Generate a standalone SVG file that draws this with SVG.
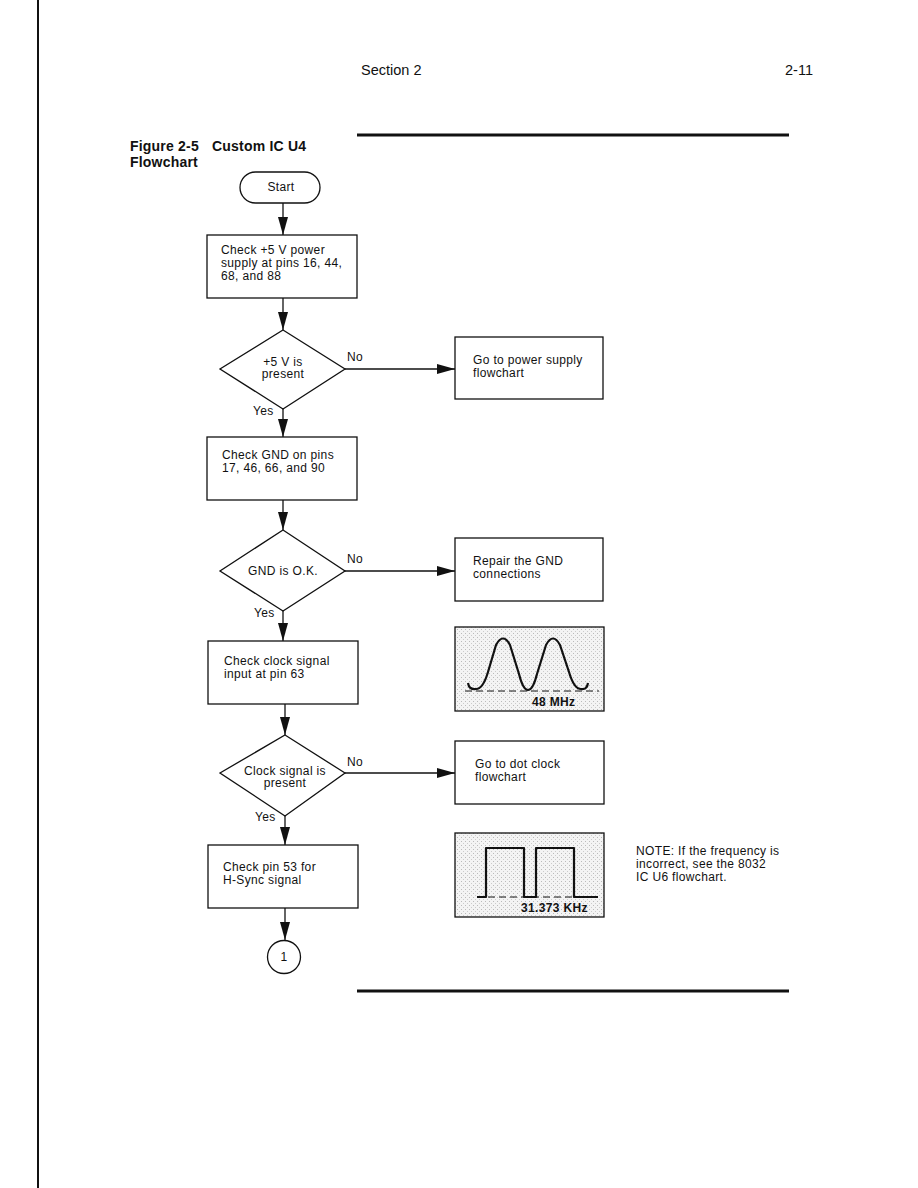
<svg xmlns="http://www.w3.org/2000/svg" width="918" height="1188" viewBox="0 0 918 1188">
<style>
text{font-family:"Liberation Sans",Arial,sans-serif;fill:#111}
.t{font-size:12px;letter-spacing:0.35px}
.h{font-size:14.5px}
.b{font-size:14px;font-weight:bold;letter-spacing:0.2px}
.n{fill:#fff;stroke:#111;stroke-width:1.3}
.c{fill:none;stroke:#111;stroke-width:1.3}
.w{fill:none;stroke:#111;stroke-width:2.2;stroke-linejoin:round}
.d{fill:none;stroke:#111;stroke-width:1.2;stroke-dasharray:7 4}
</style>
<defs>
<marker id="a" markerWidth="20" markerHeight="10" refX="18" refY="5" orient="auto" markerUnits="userSpaceOnUse" viewBox="0 0 20 10">
<path d="M0,0 L18,5 L0,10 Z" fill="#111"/>
</marker>
<pattern id="st" width="4" height="4" patternUnits="userSpaceOnUse">
<rect width="4" height="4" fill="#f4f4f4"/>
<rect x="1" y="1" width="1" height="1" fill="#bbb"/>
<rect x="3" y="3" width="1" height="1" fill="#ccc"/>
</pattern>
</defs>
<rect width="918" height="1188" fill="#fff"/>
<g id="page">
<line x1="38" y1="0" x2="38" y2="1188" stroke="#111" stroke-width="2"/>
<text class="h" x="361" y="75">Section 2</text>
<text class="h" x="785" y="75">2-11</text>
<line x1="357" y1="135" x2="789" y2="135" stroke="#111" stroke-width="3"/>
<line x1="357" y1="991" x2="789" y2="991" stroke="#111" stroke-width="3"/>
<text class="b" x="130" y="151">Figure 2-5</text>
<text class="b" x="212" y="151">Custom IC U4</text>
<text class="b" x="130" y="167">Flowchart</text>
</g>
<g id="connectors">
<line class="c" x1="283" y1="203" x2="283" y2="235" marker-end="url(#a)"/>
<line class="c" x1="283" y1="298" x2="283" y2="330" marker-end="url(#a)"/>
<line class="c" x1="345" y1="369" x2="455" y2="369" marker-end="url(#a)"/>
<line class="c" x1="283" y1="409" x2="283" y2="437" marker-end="url(#a)"/>
<line class="c" x1="283" y1="500" x2="283" y2="530" marker-end="url(#a)"/>
<line class="c" x1="345" y1="571" x2="455" y2="571" marker-end="url(#a)"/>
<line class="c" x1="283" y1="611" x2="283" y2="641" marker-end="url(#a)"/>
<line class="c" x1="285" y1="704" x2="285" y2="735" marker-end="url(#a)"/>
<line class="c" x1="345" y1="773" x2="455" y2="773" marker-end="url(#a)"/>
<line class="c" x1="285" y1="816" x2="285" y2="845" marker-end="url(#a)"/>
<line class="c" x1="285" y1="908" x2="285" y2="940" marker-end="url(#a)"/>
<text class="t" x="347" y="361">No</text>
<text class="t" x="253" y="415">Yes</text>
<text class="t" x="347" y="563">No</text>
<text class="t" x="254" y="617">Yes</text>
<text class="t" x="347" y="766">No</text>
<text class="t" x="255" y="821">Yes</text>
</g>
<g id="start">
<rect class="n" x="240" y="172" width="80" height="31" rx="15.5"/>
<text class="t" x="281" y="191" text-anchor="middle">Start</text>
</g>
<g id="box1">
<rect class="n" x="207" y="235" width="150" height="63"/>
<text class="t" x="221" y="254">Check +5 V power</text>
<text class="t" x="221" y="267">supply at pins 16, 44,</text>
<text class="t" x="221" y="280">68, and 88</text>
</g>
<g id="dec1">
<polygon class="n" points="283,330 345,369 283,409 220,369"/>
<text class="t" x="283" y="366" text-anchor="middle">+5 V is</text>
<text class="t" x="283" y="378" text-anchor="middle">present</text>
</g>
<g id="power">
<rect class="n" x="455" y="337" width="148" height="62"/>
<text class="t" x="473" y="364">Go to power supply</text>
<text class="t" x="473" y="377">flowchart</text>
</g>
<g id="box2">
<rect class="n" x="207" y="437" width="150" height="63"/>
<text class="t" x="222" y="459">Check GND on pins</text>
<text class="t" x="222" y="472">17, 46, 66, and 90</text>
</g>
<g id="dec2">
<polygon class="n" points="283,530 345,571 283,611 220,571"/>
<text class="t" x="283" y="575" text-anchor="middle">GND is O.K.</text>
</g>
<g id="gnd">
<rect class="n" x="455" y="538" width="148" height="63"/>
<text class="t" x="473" y="565">Repair the GND</text>
<text class="t" x="473" y="578">connections</text>
</g>
<g id="box3">
<rect class="n" x="208" y="641" width="150" height="63"/>
<text class="t" x="224" y="665">Check clock signal</text>
<text class="t" x="224" y="678">input at pin 63</text>
</g>
<g id="wave1">
<rect x="455" y="627" width="149" height="84" fill="url(#st)" stroke="#111" stroke-width="1.3"/>
<line class="d" x1="465" y1="691" x2="599" y2="691"/>
<path class="w" d="M468,683 Q469,690 476,689 Q483,689 488,672 L496,645 Q503,632 510,645 L519,674 Q523,690 528,690 Q533,690 537,674 L546,645 Q553,632 560,645 L569,672 Q574,689 581,689 Q587,690 588,683"/>
<text class="t" x="532" y="706" font-weight="bold">48 MHz</text>
</g>
<g id="dec3">
<polygon class="n" points="285,735 345,773 285,816 220,773"/>
<text class="t" x="285" y="775" text-anchor="middle">Clock signal is</text>
<text class="t" x="285" y="787" text-anchor="middle">present</text>
</g>
<g id="dotclock">
<rect class="n" x="455" y="741" width="149" height="63"/>
<text class="t" x="475" y="768">Go to dot clock</text>
<text class="t" x="475" y="781">flowchart</text>
</g>
<g id="box4">
<rect class="n" x="208" y="845" width="150" height="63"/>
<text class="t" x="223" y="871">Check pin 53 for</text>
<text class="t" x="223" y="884">H-Sync signal</text>
</g>
<g id="wave2">
<rect x="455" y="833" width="149" height="84" fill="url(#st)" stroke="#111" stroke-width="1.3"/>
<line class="d" x1="477" y1="897" x2="598" y2="897"/>
<path class="w" d="M477,897 L486,897 L486,848 L524,848 L524,897 L536,897 L536,848 L574,848 L574,897 L598,897"/>
<text class="t" x="521" y="912" font-weight="bold">31.373 KHz</text>
</g>
<g id="note">
<text class="t" x="636" y="855">NOTE: If the frequency is</text>
<text class="t" x="636" y="868">incorrect, see the 8032</text>
<text class="t" x="636" y="881">IC U6 flowchart.</text>
</g>
<g id="conn1">
<circle class="n" cx="284" cy="957" r="16.5"/>
<text class="t" x="284" y="961" text-anchor="middle">1</text>
</g>
</svg>
